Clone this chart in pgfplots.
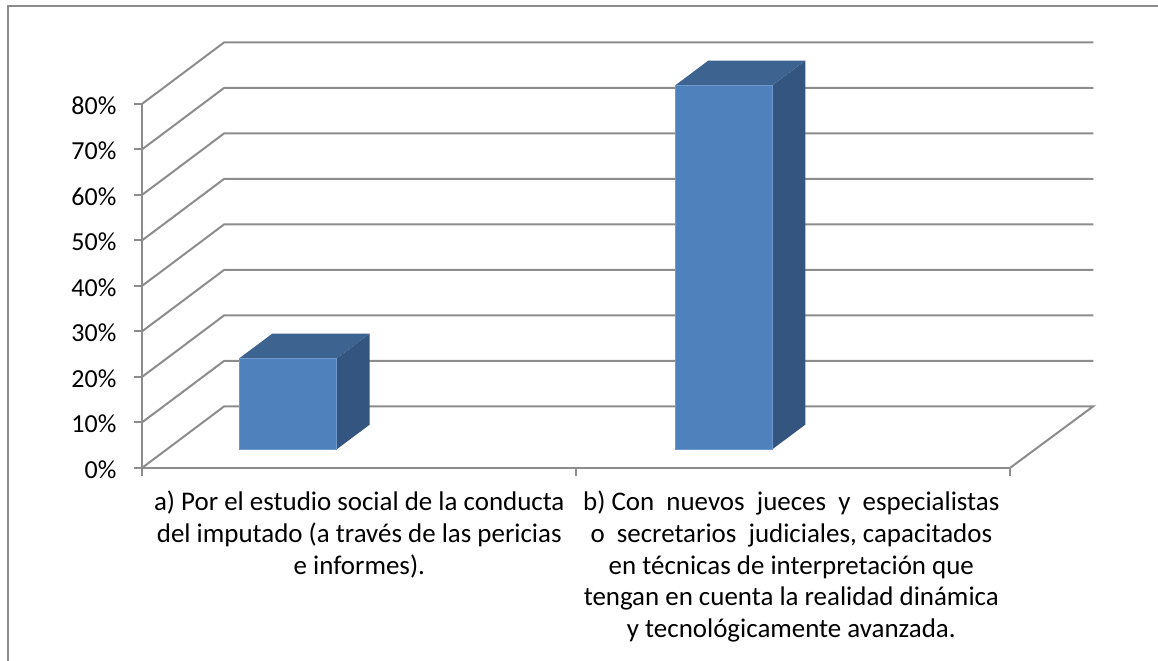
\documentclass[border=0pt]{standalone}
\usepackage{pgfplots}
\usepackage{fontspec}
\setmainfont{Carlito}
\pgfplotsset{compat=1.18}
\definecolor{gridg}{HTML}{8C8C8C}
\definecolor{barfront}{HTML}{4F81BD}
\definecolor{bartop}{HTML}{3D6391}
\definecolor{barside}{HTML}{34557F}
\definecolor{baredge}{HTML}{6F98CC}
\begin{document}
\begin{tikzpicture}
\useasboundingbox (-106.725pt,-144.975pt) rectangle (761.775pt,350.775pt);
\begin{axis}[
  scale only axis, width=651pt, height=273pt,
  xmin=0, xmax=868, ymin=0, ymax=80, clip=false,
  axis lines=left, axis line style={-, color=gridg, line width=1.5pt},
  tick style={color=gridg, line width=1.5pt},
  tick align=outside, major tick length=6.3pt,
  xtick={0,434,868}, xticklabels={},
  ytick={0,10,20,30,40,50,60,70,80},
  yticklabels={0\%,10\%,20\%,30\%,40\%,50\%,60\%,70\%,80\%},
  extra x ticks={217,649},
  extra x tick style={major tick length=0pt, xticklabel style={yshift=-14pt}},
  extra x tick labels={{a) Por el estudio social de la conducta\\del imputado (a través de las pericias\\e informes).},
    {b) Con\ \ nuevos\ \ jueces\ \ y\ \ especialistas\\o\ \ secretarios\ \ judiciales, capacitados\\en técnicas de interpretación que\\tengan en cuenta la realidad dinámica\\y tecnológicamente avanzada.}},
  xticklabel style={align=center, font=\fontsize{20.2}{23.8}\selectfont, anchor=north, text=black},
  yticklabel style={font=\fontsize{19.5}{24}\selectfont, text=black, xshift=-9.6pt, yshift=-1.5pt},
]
% gridlines: front wall value -> back wall value
\addplot[gridg, line width=1.5pt] coordinates {(0,10) (82,23.5) (951,23.5)};
\addplot[gridg, line width=1.5pt] coordinates {(0,20) (82,33.5) (951,33.5)};
\addplot[gridg, line width=1.5pt] coordinates {(0,30) (82,43.5) (951,43.5)};
\addplot[gridg, line width=1.5pt] coordinates {(0,40) (82,53.5) (951,53.5)};
\addplot[gridg, line width=1.5pt] coordinates {(0,50) (82,63.5) (951,63.5)};
\addplot[gridg, line width=1.5pt] coordinates {(0,60) (82,73.5) (951,73.5)};
\addplot[gridg, line width=1.5pt] coordinates {(0,70) (82,83.5) (951,83.5)};
\addplot[gridg, line width=1.5pt] coordinates {(0,80) (82,93.5) (951,93.5)};
% floor
\addplot[gridg, line width=1.5pt] coordinates {(0,0) (82,13.5) (951,13.5) (868,0)};
% bar a: 20 %
\addplot[fill=barside, draw=none] coordinates {(194.4,4.04) (227.4,9.47) (227.4,29.47) (194.4,24.04) (194.4,4.04)};
\addplot[fill=bartop, draw=none] coordinates {(97,24.04) (130,29.47) (227.4,29.47) (194.4,24.04) (97,24.04)};
\addplot[fill=barfront, draw=baredge, line width=0.4pt] coordinates {(97,4.04) (194.4,4.04) (194.4,24.04) (97,24.04) (97,4.04)};
% bar b: 80 %
\addplot[fill=barside, draw=none] coordinates {(630,4.04) (663,9.47) (663,89.47) (630,84.04) (630,4.04)};
\addplot[fill=bartop, draw=none] coordinates {(533,84.04) (566,89.47) (663,89.47) (630,84.04) (533,84.04)};
\addplot[fill=barfront, draw=baredge, line width=0.4pt] coordinates {(533,4.04) (630,4.04) (630,84.04) (533,84.04) (533,4.04)};
\end{axis}
\draw[gridg, line width=1.5pt] (-100.35pt,-145pt) -- (-100.35pt,346.3pt) -- (762pt,346.3pt);
\end{tikzpicture}
\end{document}
